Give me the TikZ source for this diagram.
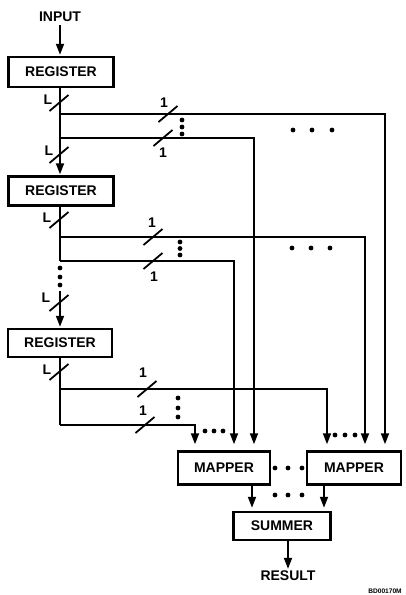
\documentclass[tikz,border=0pt]{standalone}
\usepackage{fontspec}
\setmainfont{Liberation Sans}
\usetikzlibrary{arrows.meta}
\begin{document}
\begin{tikzpicture}[x=1pt,y=-1pt,
  line/.style={line width=1.8pt},
  arr/.style={line width=1.8pt,-{Triangle[length=11pt,width=8pt]}},
  box/.style={draw,line width=2.5pt,inner sep=0pt,font=\bfseries\fontsize{14}{15}\selectfont},
  lbl/.style={inner sep=0pt,font=\bfseries\fontsize{14}{15}\selectfont},
  slashmark/.pic={\draw[line width=1.8pt] (-9.5,8) -- (9.5,-8);}
]
\useasboundingbox (0,0) rectangle (405,595);
\fill[white] (0,0) rectangle (405,595);

% nodes
\node[lbl] (in) at (60,17) {INPUT};
\node[box,minimum width=105pt,minimum height=30pt] (R1) at (61,72) {REGISTER};
\node[box,minimum width=105pt,minimum height=29pt] (R2) at (61,191) {REGISTER};
\node[box,minimum width=104pt,minimum height=28pt] (R3) at (60,343) {REGISTER};
\node[box,minimum width=92pt,minimum height=33pt] (M1) at (224,468) {MAPPER};
\node[box,minimum width=94pt,minimum height=33pt] (M2) at (354,468) {MAPPER};
\node[box,minimum width=97pt,minimum height=28pt] (S) at (282,526) {SUMMER};
\node[lbl] (res) at (288,576) {RESULT};
\node[inner sep=0pt,font=\bfseries\fontsize{6.6}{7}\selectfont] (bd) at (385,591) {BD00170M};

% trunk coordinates
\coordinate (b11) at (60,114);
\coordinate (b12) at (60,138);
\coordinate (b21) at (60,237);
\coordinate (b22) at (60,261);
\coordinate (t2) at (60,291);
\coordinate (b31) at (60,389);
\coordinate (b32) at (60,425);

% trunk
\draw[arr,shorten <=3pt,shorten >=1pt] (in) -- (in |- R1.north);
\draw[arr,shorten >=1pt] (R1.south -| b11) -- (R2.north -| b11);
\draw[line] (R2.south -| b21) -- (b22);
\draw[arr,shorten >=1pt] (t2) -- (R3.north -| t2);
\draw[line] (R3.south -| b31) -- (b32);

% branches
\draw[arr,shorten >=6pt] (b11) -| ([xshift=31pt]M2.north);
\draw[arr,shorten >=6pt] (b12) -| ([xshift=30pt]M1.north);
\draw[arr,shorten >=6pt] (b21) -| ([xshift=11pt]M2.north);
\draw[arr,shorten >=6pt] (b22) -| ([xshift=10pt]M1.north);
\draw[arr,shorten >=6pt] (b31) -| ([xshift=-27pt]M2.north);
\draw[arr,shorten >=6pt] (b32) -| ([xshift=-29pt]M1.north);

% outputs
\draw[arr,shorten >=3pt] ([xshift=28pt]M1.south) -- ([xshift=28pt]M1.south |- S.north);
\draw[arr,shorten >=3pt] ([xshift=-30pt]M2.south) -- ([xshift=-30pt]M2.south |- S.north);
\draw[arr,shorten >=2pt] (S.south -| res.north) -- (res.north);

% slash marks
\pic at (59,103) {slashmark};
\pic at (59,155) {slashmark};
\pic at (59,220) {slashmark};
\pic at (59,303) {slashmark};
\pic at (59,372) {slashmark};
\pic at (168,114) {slashmark};
\pic at (163,138) {slashmark};
\pic at (153,237) {slashmark};
\pic at (153,261) {slashmark};
\pic at (147,389) {slashmark};
\pic at (145,425) {slashmark};

% labels
\node[lbl] (L1) at (48,100) {L};
\node[lbl] (L2) at (49,151) {L};
\node[lbl] (L3) at (47,218) {L};
\node[lbl] (L4) at (46,298) {L};
\node[lbl] (L5) at (47,370) {L};
\node[lbl] (o11) at (164,103) {1};
\node[lbl] (o12) at (163,153) {1};
\node[lbl] (o21) at (152,223) {1};
\node[lbl] (o22) at (154,277) {1};
\node[lbl] (o31) at (143,373) {1};
\node[lbl] (o32) at (143,411) {1};

% dots
\foreach \x/\y in {182/120,182/127,182/134,
                   180/242,180/248.5,180/255,
                   178/398,178/408,178/417,
                   60/268,60/277,60/285,
                   293/130,312/130,332/130,
                   292/248,311/248,330/248,
                   205/431,214/431,223/431,
                   335/435,345/435,355/435,
                   275/468,288/468,302/468,
                   275/495,288/495,302/495}
  \fill (\x,\y) circle (2.4pt);
\end{tikzpicture}
\end{document}
